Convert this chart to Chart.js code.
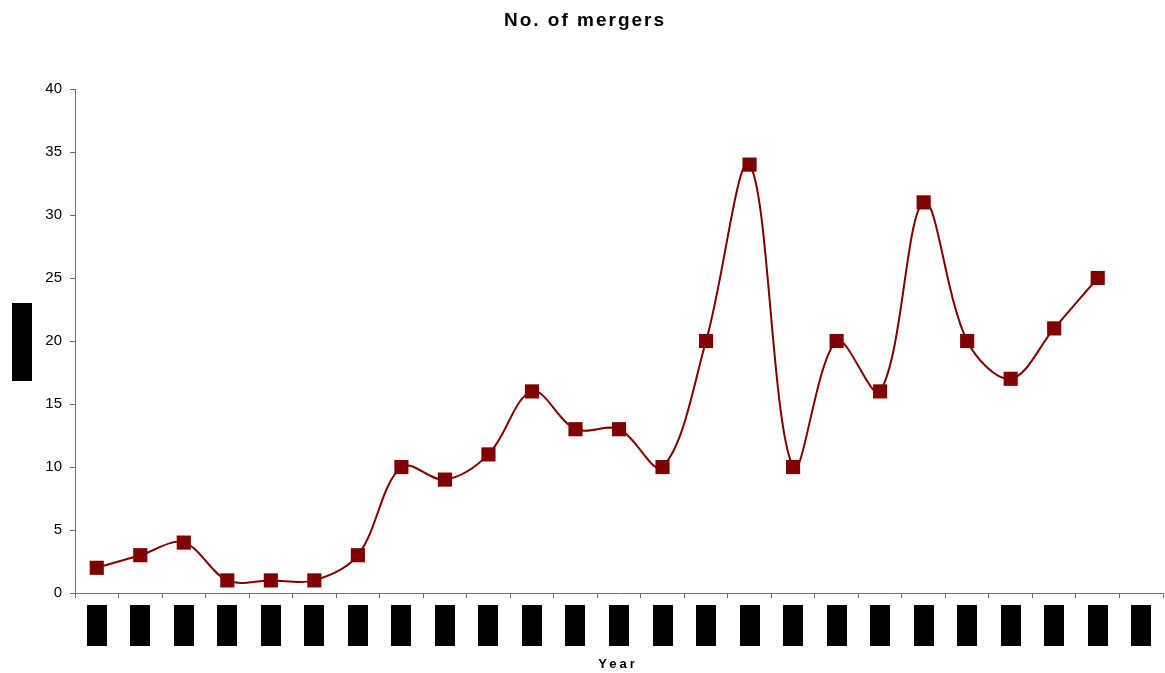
<!DOCTYPE html>
<html>
<head>
<meta charset="utf-8">
<title>No. of mergers</title>
<script src="https://cdn.jsdelivr.net/npm/chart.js@4/dist/chart.umd.min.js"></script>
<style>
    html, body { margin: 0; padding: 0; background: #fff; }
    #wrap { width: 1165px; height: 673px; }
    canvas { display: block; }
</style>
</head>
<body>
<div id="wrap"><canvas id="myChart" width="1165" height="673"></canvas></div>
<script>
// categorias del eje x (las etiquetas se tapan con recuadros negros)
var categorias = ['1', '2', '3', '4', '5', '6', '7', '8', '9', '10', '11', '12', '13',
                  '14', '15', '16', '17', '18', '19', '20', '21', '22', '23', '24', '25'];
// numero de fusiones por periodo
var fusiones = [2, 3, 4, 1, 1, 1, 3, 10, 9, 11, 16, 13, 13, 10, 20, 34, 10, 20, 16, 31, 20, 17, 21, 25, null];
// marcas del eje y
var marcasY = [0, 5, 10, 15, 20, 25, 30, 35, 40];

var titulo = 'No. of mergers';
var tituloX = 'Year';
var granate = '#800000';
var fuente = '"Liberation Sans", Arial, sans-serif';

// Dibuja el titulo, el titulo del eje x y los recuadros negros de las etiquetas
var decoraciones = {
    id: 'decoraciones',
    afterDraw: function (chart) {
        var ctx = chart.ctx;
        var area = chart.chartArea;
        ctx.save();
        ctx.fillStyle = '#000';
        ctx.textAlign = 'center';
        ctx.textBaseline = 'alphabetic';
        ctx.letterSpacing = '2px';
        ctx.font = 'bold 19px ' + fuente;
        ctx.fillText(titulo, 585, 26);
        ctx.letterSpacing = '3px';
        ctx.font = 'bold 13px ' + fuente;
        ctx.fillText(tituloX, (area.left + area.right) / 2 - 1, 668);
        ctx.letterSpacing = '0px';

        // recuadros sobre las etiquetas del eje x
        var escalaX = chart.scales.x;
        for (var i = 0; i < categorias.length; i++) {
            var px = escalaX.getPixelForValue(i);
            ctx.fillRect(Math.round(px - 10), 605, 20, 41);
        }
        // recuadro del titulo del eje y
        ctx.fillRect(12, 303, 20, 78);
        ctx.restore();
    }
};

var ctx = document.getElementById('myChart').getContext('2d');
var myChart = new Chart(ctx, {
    type: 'line',
    data: {
        labels: categorias,
        datasets: [{
            label: titulo,
            data: fusiones,
            borderColor: granate,
            backgroundColor: granate,
            borderWidth: 2,
            tension: 0.35,
            fill: false,
            pointStyle: 'rect',
            pointRadius: 10,
            pointHoverRadius: 10,
            pointBackgroundColor: granate,
            pointBorderColor: granate,
            pointBorderWidth: 0
        }]
    },
    options: {
        responsive: false,
        animation: false,
        layout: { autoPadding: false, padding: { top: 89, right: 2, left: 0, bottom: 0 } },
        plugins: {
            legend: { display: false },
            title: { display: false },
            tooltip: { enabled: false }
        },
        scales: {
            x: {
                type: 'category',
                offset: true,
                grid: {
                    display: true,
                    offset: true,
                    drawOnChartArea: false,
                    drawTicks: true,
                    tickLength: 5,
                    color: '#707070'
                },
                border: { color: '#707070', width: 1 },
                ticks: {
                    callback: function () { return ''; },
                    maxRotation: 0,
                    autoSkip: false
                },
                afterFit: function (scale) {
                    scale.height = 80;
                    scale.paddingLeft = 0;
                    scale.paddingRight = 0;
                }
            },
            y: {
                min: 0,
                max: 40,
                afterBuildTicks: function (scale) {
                    scale.ticks = marcasY.map(function (v) { return { value: v }; });
                },
                grid: {
                    display: true,
                    drawOnChartArea: false,
                    drawTicks: true,
                    tickLength: 5,
                    color: '#707070'
                },
                border: { color: '#707070', width: 1 },
                ticks: {
                    color: '#000',
                    padding: 8,
                    font: { family: fuente, size: 15 }
                },
                afterFit: function (scale) { scale.width = 75; }
            }
        }
    },
    plugins: [decoraciones]
});
</script>
</body>
</html>
